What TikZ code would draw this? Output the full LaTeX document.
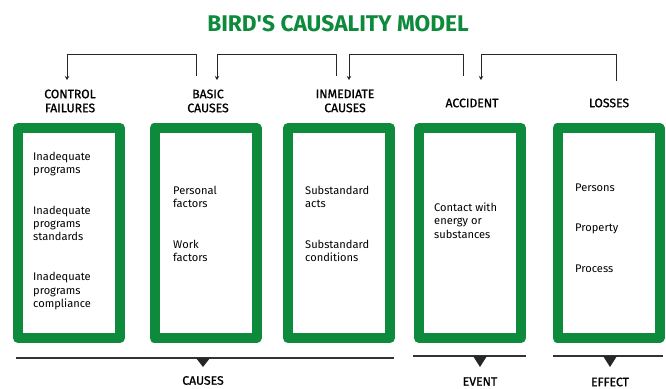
\documentclass[tikz,border=0pt]{standalone}
\usepackage{fontspec}
\setmainfont{Fira Sans}
\newfontfamily\headfont[FakeBold=1.2]{Fira Sans}
\newfontfamily\titlefont[Ligatures=TeXOff]{Fira Sans}
\usetikzlibrary{arrows.meta}
\definecolor{birdgreen}{RGB}{13,138,60}
\tikzset{
  panel/.style={draw=birdgreen, line width=10pt, minimum width=102pt, minimum height=210pt, inner sep=0pt},
  head/.style={font=\headfont\fontsize{12.2}{14}\selectfont, align=center, inner sep=0pt},
  body/.style={font=\fontsize{11.1}{13.3}\selectfont, align=left, anchor=west, inner sep=0pt},
  link/.style={line width=0.9pt, black!85, -{Stealth[length=4pt,width=4.5pt]}},
  rule/.style={black!80, line width=1.4pt},
}
\begin{document}
\begin{tikzpicture}[x=1pt,y=1pt, line join=round]
\useasboundingbox (0,0) rectangle (666,388);
\node[font=\titlefont\bfseries\fontsize{22.7}{26}\selectfont, text=birdgreen] (title) at (338,364) {BIRD'S CAUSALITY MODEL};
% headings
\node[head] (cf)  at (70,287)  {CONTROL\\FAILURES};
\node[head] (bc)  at (208,287) {BASIC\\CAUSES};
\node[head] (ic)  at (345,287) {INMEDIATE\\CAUSES};
\node[head] (acc) at (472,285) {ACCIDENT};
\node[head] (los) at (609,285) {LOSSES};
% bracket ends above the headings
\coordinate (bc-out) at (196,312);  \coordinate (cf-in)  at (67,308);
\coordinate (ic-out) at (336,312);  \coordinate (bc-in)  at (217,308);
\coordinate (acc-out) at (463,312); \coordinate (ic-in)  at (349,308);
\coordinate (los-out) at (616,307); \coordinate (acc-in) at (481,308);
\draw[link] (bc-out) -- ++(0,22) -| (cf-in);
\draw[link] (ic-out) -- ++(0,22) -| (bc-in);
\draw[link] (acc-out) -- ++(0,22) -| (ic-in);
\draw[link] (los-out) -- ++(0,27) -| (acc-in);
% green panels
\node[panel] (p1) at (69,155) {};
\node[panel] (p2) at (205.5,155) {};
\node[panel] (p3) at (339,155) {};
\node[panel] (p4) at (470,155) {};
\node[panel] (p5) at (608.5,155) {};
\node[body] (t1) at (33,157) {Inadequate\\programs\\[27pt]Inadequate\\programs\\standards\\[27pt]Inadequate\\programs\\compliance};
\node[body] (t2) at (173,164) {Personal\\factors\\[27pt]Work\\factors};
\node[body] (t3) at (305,164) {Substandard\\acts\\[27pt]Substandard\\conditions};
\node[body] (t4) at (434,167.5) {Contact with\\energy or\\substances};
\node[body] (t5) at (575,160) {Persons\\[27pt]Property\\[27pt]Process};
% bottom groups
\draw[rule, line width=1.8pt] (16,30) -- (394,30);
\draw[rule] (413,32) -- (526,32);
\draw[rule] (553,32) -- (663,32);
\fill[black!85] (196,30) -- (210,30) -- (203,21) -- cycle;
\fill[black!85] (473,32) -- (487,32) -- (480,21) -- cycle;
\fill[black!85] (603,32) -- (617,32) -- (610,21) -- cycle;
\node[head] (causes) at (203,7.5) {CAUSES};
\node[head] (event)  at (480,6.5) {EVENT};
\node[head] (effect) at (610,6) {EFFECT};
\end{tikzpicture}
\end{document}
